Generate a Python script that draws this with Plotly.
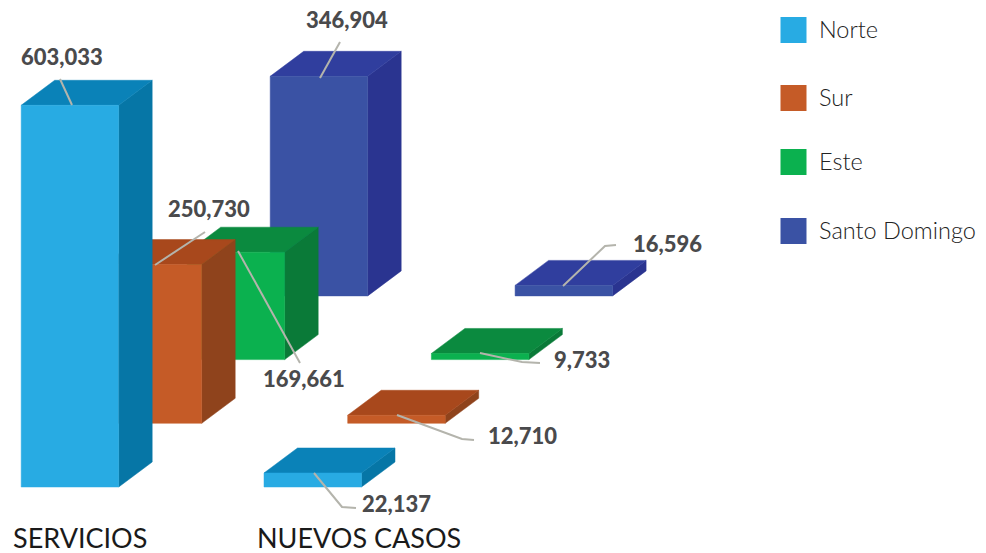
import plotly.graph_objects as go

categories = ["SERVICIOS", "NUEVOS CASOS"]
series = ["Norte", "Sur", "Este", "Santo Domingo"]
servicios = [603033, 250730, 169661, 346904]
nuevos_casos = [22137, 12710, 9733, 16596]
value_labels = [["603,033", "250,730", "169,661", "346,904"],
                ["22,137", "12,710", "9,733", "16,596"]]
front_colors = ["#28ABE3", "#C55B27", "#0BB14F", "#3A52A4"]
top_colors = ["#0A82B8", "#A8481C", "#0B8A3F", "#303E9E"]
side_colors = ["#0676A6", "#8F431C", "#0A7A38", "#2A3490"]

W, H = 986, 553
BASE_PX = 487            # pixel row of the zero level of the front series
UNITS = 1 / 0.000633     # value units per pixel
CAT_X = [21.2, 264]
BAR_W = 97.5
STEP_X = [83, 83.7]
STEP_Y = 63.7
DEPTH_X, DEPTH_Y = 33.5, 25

fig = go.Figure()


def face(xs, ys, color):
    fig.add_trace(go.Scatter(x=xs + xs[:1], y=ys + ys[:1], mode="lines", fill="toself",
                             fillcolor=color, line=dict(width=0.5, color=color),
                             hoverinfo="skip", showlegend=False))


for c, values in enumerate([servicios, nuevos_casos]):
    for s in reversed(range(len(series))):
        v = values[s]
        x0 = CAT_X[c] + s * STEP_X[c]
        x1 = x0 + BAR_W
        b = s * STEP_Y * UNITS
        t = b + v
        dx, dy = DEPTH_X, DEPTH_Y * UNITS
        face([x1, x1 + dx, x1 + dx, x1], [b, b + dy, t + dy, t], side_colors[s])
        face([x0, x0 + dx, x1 + dx, x1], [t, t + dy, t + dy, t], top_colors[s])
        face([x0, x1, x1, x0], [b, b, t, t], front_colors[s])

# leader lines and labels, placed in picture rows on an overlaid axis
leaders = [
    [[[72, 60], [105, 79]], [[155, 205], [265, 232]], [[238, 300], [251, 363]], [[320, 340], [78, 42]]],
    [[[314, 342, 356], [473, 507, 508]], [[397, 462, 474], [415, 439, 440]],
     [[480, 522, 540], [353, 362, 363]], [[563, 605, 616], [286, 246, 245]]],
]
label_pos = [
    [(62, 56), (209, 208), (304, 378), (347, 19)],
    [(396, 503), (522, 435), (582, 359), (667, 243)],
]
annotations = []
for c in range(2):
    for s in range(4):
        lx, ly = leaders[c][s]
        fig.add_trace(go.Scatter(x=lx, y=ly, yaxis="y2", mode="lines",
                                 line=dict(color="#B4B4AC", width=2),
                                 hoverinfo="skip", showlegend=False))
        px, py = label_pos[c][s]
        annotations.append(dict(x=px, y=py, xref="x", yref="y2", text=value_labels[c][s],
                                showarrow=False,
                                font=dict(family="Lato", size=22, weight=900, color="#4A4A4C")))

# legend
legend_y = [30, 98, 162, 231]
fig.add_trace(go.Scatter(x=[793.5] * 4, y=legend_y, yaxis="y2", mode="markers",
                         marker=dict(symbol="square", size=26, color=front_colors, line=dict(width=0)),
                         hoverinfo="skip", showlegend=False))
for name, y in zip(series, legend_y):
    annotations.append(dict(x=817, y=y - 1, xref="x", yref="y2", text=name, xanchor="left",
                            showarrow=False, font=dict(family="Lato", size=23.5, weight=300, color="#222222")))

for name, x in zip(categories, [80, 359]):
    annotations.append(dict(x=x, y=537, xref="x", yref="y2", text=name, showarrow=False,
                            font=dict(family="Lato", size=27, color="#1A1A1A")))

fig.update_layout(
    width=W, height=H, margin=dict(l=0, r=0, t=0, b=0),
    paper_bgcolor="white", plot_bgcolor="white",
    xaxis=dict(range=[0, W], visible=False, fixedrange=True),
    yaxis=dict(range=[(BASE_PX - H) * UNITS, BASE_PX * UNITS], visible=False, fixedrange=True),
    yaxis2=dict(range=[H, 0], overlaying="y", visible=False, fixedrange=True),
    annotations=annotations,
)
fig.write_html("out.html", config={"displayModeBar": False},
               post_script="document.body.style.margin='0';")
